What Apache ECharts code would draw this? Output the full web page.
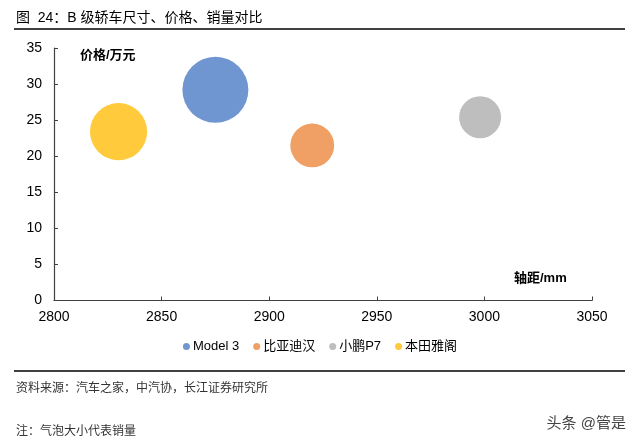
<!DOCTYPE html>
<html><head><meta charset="utf-8">
<script src="https://cdn.jsdelivr.net/npm/echarts@6/dist/echarts.min.js"></script>
<style>html,body{margin:0;padding:0;background:#fff}#c{width:640px;height:446px}</style>
</head><body><div id="c"></div>
<script>
var models = ['Model 3', '比亚迪汉', '小鹏P7', '本田雅阁'];
var wheelbase = [2875, 2920, 2998, 2830];
var price = [29.2, 21.5, 25.4, 23.4];
var sales = [13.6, 6.0, 5.5, 10.2];
var colors = ['#7096D2', '#F0A064', '#BEBEBE', '#FFCA3C'];
var xTicks = [2800, 2850, 2900, 2950, 3000, 3050];
var yTicks = [0, 5, 10, 15, 20, 25, 30, 35];

var FONT = '"Liberation Sans", "Noto Sans CJK SC", sans-serif';
var chart = echarts.init(document.getElementById('c'), null, {renderer: 'canvas'});
var series = models.map(function (m, i) {
  return {
    name: m, type: 'scatter',
    data: [[wheelbase[i], price[i], sales[i]]],
    symbolSize: function (v) { return Math.sqrt(v[2]) * 17.9; },
    itemStyle: {color: colors[i], opacity: 1},
    emphasis: {disabled: true}
  };
});
chart.setOption({
  animation: false,
  textStyle: {fontFamily: FONT},
  color: colors,
  grid: {left: 54, right: 48, top: 48, bottom: 145.5, containLabel: false},
  xAxis: {
    type: 'value', min: xTicks[0], max: xTicks[xTicks.length - 1], interval: 50,
    axisLine: {show: true, lineStyle: {color: '#404040', width: 1.2}},
    axisTick: {show: true, inside: true, length: 4, lineStyle: {color: '#404040'}},
    axisLabel: {color: '#000', fontSize: 14, margin: 10, fontFamily: FONT,
      formatter: function (v) { return String(v); }},
    splitLine: {show: false}
  },
  yAxis: {
    type: 'value', min: yTicks[0], max: yTicks[yTicks.length - 1], interval: 5,
    axisLine: {show: true, lineStyle: {color: '#404040', width: 1.2}},
    axisTick: {show: true, inside: true, length: 4, lineStyle: {color: '#404040'}},
    axisLabel: {color: '#000', fontSize: 14, margin: 12, fontFamily: FONT,
      formatter: function (v) { return String(v); }},
    splitLine: {show: false}
  },
  legend: {
    data: models, bottom: 88, left: 'center',
    icon: 'circle', itemWidth: 7, itemHeight: 7, itemGap: 14,
    textStyle: {fontSize: 13, color: '#000', fontFamily: FONT, padding: [0, 0, 0, -2]}
  },
  graphic: [
    {type: 'text', left: 16, top: 11, style: {text: '图  24：B 级轿车尺寸、价格、销量对比', font: '14px ' + FONT, fill: '#000'}},
    {type: 'line', shape: {x1: 14, y1: 29, x2: 625, y2: 29}, style: {stroke: '#000', lineWidth: 1.5}},
    {type: 'text', left: 80, top: 49, style: {text: '价格/万元', font: 'bold 13px ' + FONT, fill: '#000'}},
    {type: 'text', left: 514, top: 272, style: {text: '轴距/mm', font: 'bold 13px ' + FONT, fill: '#000'}},
    {type: 'line', shape: {x1: 14, y1: 371, x2: 625, y2: 371}, style: {stroke: '#404040', lineWidth: 2}},
    {type: 'text', left: 16, top: 383, style: {text: '资料来源：汽车之家，中汽协，长江证券研究所', font: '12px ' + FONT, fill: '#333'}},
    {type: 'text', left: 16, top: 426, style: {text: '注：气泡大小代表销量', font: '12px ' + FONT, fill: '#333'}},
    {type: 'text', right: 14, top: 416, style: {text: '头条 @管是', font: '15px ' + FONT, fill: '#444'}}
  ],
  series: series
});
</script></body></html>
